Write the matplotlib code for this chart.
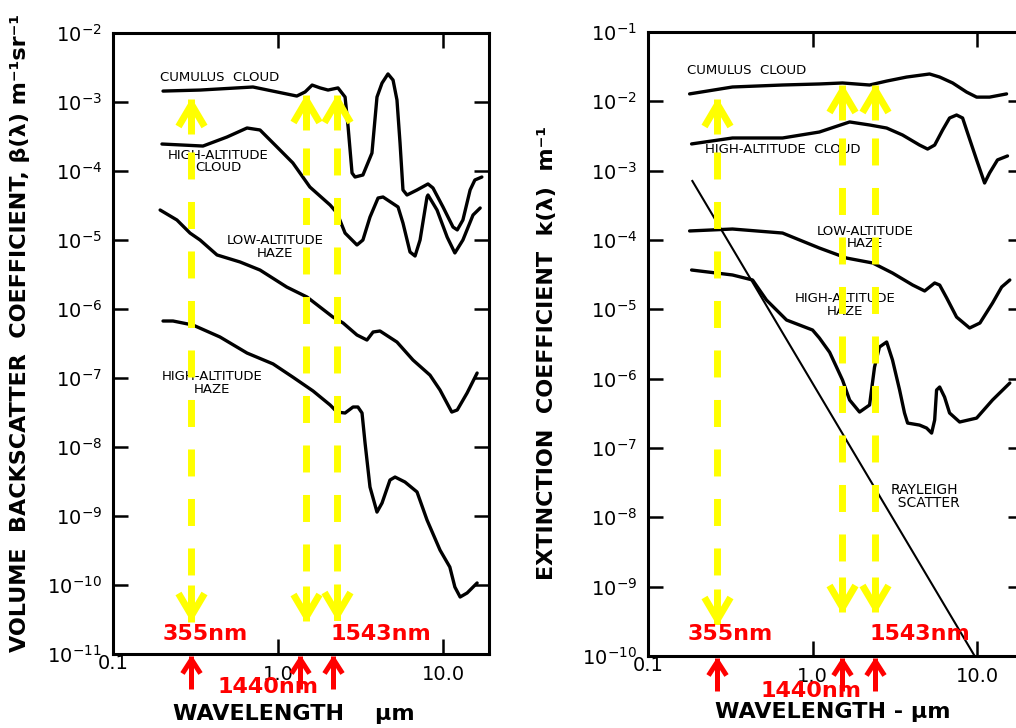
import matplotlib
matplotlib.use("Agg")
import matplotlib.pyplot as plt
from matplotlib.path import Path
from matplotlib.markers import MarkerStyle
from matplotlib.ticker import FixedLocator, FixedFormatter, NullLocator

plt.rcParams['font.family'] = ['DejaVu Sans']
plt.rcParams['lines.scale_dashes'] = False

# ---------------- Left panel: volume backscatter coefficient ----------------
bs_cumulus_x = [0.201, 0.337, 0.705, 1.30, 1.46, 1.61, 1.80, 2.01, 2.31, 2.55, 2.66, 2.81, 2.93,
                3.27, 3.71, 3.98, 4.27, 4.64, 4.98, 5.26, 5.49, 5.72, 6.05, 6.96, 8.11, 8.69,
                10.0, 11.5, 12.2, 13.2, 14.6, 15.6, 17.2]
bs_cumulus_y = [1.44e-3, 1.49e-3, 1.65e-3, 1.22e-3, 1.40e-3, 1.76e-3, 1.60e-3, 1.49e-3, 1.60e-3,
                1.18e-3, 4.34e-4, 9.35e-5, 8.18e-5, 8.75e-5, 1.82e-4, 1.18e-3, 1.88e-3, 2.55e-3,
                2.08e-3, 1.07e-3, 2.55e-4, 5.31e-5, 4.49e-5, 5.31e-5, 6.49e-5, 5.68e-5, 3.01e-5,
                1.54e-5, 1.40e-5, 1.95e-5, 5.31e-5, 7.41e-5, 8.18e-5]

bs_hicloud_x = [0.198, 0.351, 0.491, 0.649, 0.778, 0.986, 1.23, 1.56, 2.07, 2.28, 2.55, 3.01, 3.27,
                3.61, 4.04, 4.33, 5.34, 5.72, 6.31, 6.77, 7.26, 8.00, 8.11, 9.20, 10.6, 11.8,
                13.2, 15.2, 16.8]
bs_hicloud_y = [2.46e-4, 2.30e-4, 3.11e-4, 4.20e-4, 3.93e-4, 2.23e-4, 1.31e-4, 5.86e-5, 3.21e-5,
                2.46e-5, 1.26e-5, 8.47e-6, 1.0e-5, 2.15e-5, 4.06e-5, 4.20e-5, 3.01e-5, 1.76e-5,
                6.70e-6, 5.86e-6, 1.0e-5, 4.20e-5, 4.49e-5, 2.72e-5, 1.10e-5, 6.49e-6, 1.0e-5,
                2.30e-5, 2.91e-5]

bs_lohaze_x = [0.193, 0.244, 0.293, 0.337, 0.427, 0.589, 0.778, 1.13, 1.50, 2.15, 2.48, 3.01, 3.46,
               3.77, 4.15, 5.26, 6.58, 8.34, 9.59, 11.3, 12.2, 14.0, 16.1]
bs_lohaze_y = [2.72e-5, 1.95e-5, 1.26e-5, 1.0e-5, 6.07e-6, 4.80e-6, 3.67e-6, 2.08e-6, 1.49e-6,
               7.66e-7, 6.27e-7, 4.20e-7, 3.55e-7, 4.64e-7, 4.80e-7, 3.32e-7, 1.82e-7, 1.10e-7,
               6.70e-8, 3.21e-8, 3.44e-8, 6.07e-8, 1.18e-7]

bs_hihaze_x = [0.201, 0.231, 0.305, 0.445, 0.649, 0.933, 1.23, 1.63, 2.07, 2.28, 2.55, 2.85, 3.05,
               3.23, 3.37, 3.61, 3.98, 4.27, 4.77, 5.12, 5.88, 6.96, 8.00, 9.59, 11.0, 11.8,
               12.7, 14.0, 16.1]
bs_hihaze_y = [6.70e-7, 6.70e-7, 5.86e-7, 3.93e-7, 2.30e-7, 1.60e-7, 1.03e-7, 6.49e-8, 4.06e-8,
               3.21e-8, 3.11e-8, 3.80e-8, 3.80e-8, 3.11e-8, 1.14e-8, 2.63e-9, 1.14e-9, 1.54e-9,
               3.32e-9, 3.67e-9, 3.11e-9, 2.23e-9, 8.75e-10, 3.21e-10, 1.82e-10, 9.35e-11,
               6.70e-11, 7.66e-11, 1.07e-10]

# ---------------- Right panel: extinction coefficient ----------------
ex_cumulus_x = [0.179, 0.326, 0.657, 1.10, 1.52, 2.22, 2.82, 3.73, 5.14, 5.92, 7.10, 8.63, 9.93,
                11.9, 15.1]
ex_cumulus_y = [1.28e-2, 1.61e-2, 1.72e-2, 1.78e-2, 1.84e-2, 1.72e-2, 1.96e-2, 2.24e-2, 2.48e-2,
                2.24e-2, 1.84e-2, 1.36e-2, 1.15e-2, 1.15e-2, 1.28e-2]

ex_hicloud_x = [0.184, 0.326, 0.657, 1.10, 1.68, 2.22, 2.82, 3.52, 4.47, 5.00, 5.52, 6.17, 6.80,
                7.50, 8.16, 8.75, 9.93, 11.1, 11.9, 13.3, 15.3]
ex_hicloud_y = [2.43e-3, 2.96e-3, 2.96e-3, 3.61e-3, 5.04e-3, 4.56e-3, 4.12e-3, 3.27e-3, 2.34e-3,
                2.05e-3, 2.34e-3, 3.86e-3, 5.75e-3, 6.35e-3, 5.75e-3, 3.49e-3, 1.43e-3, 6.64e-4,
                9.25e-4, 1.43e-3, 1.63e-3]

ex_lohaze_x = [0.179, 0.326, 0.657, 1.10, 1.61, 2.32, 3.06, 4.06, 4.80, 5.52, 5.92, 6.53, 7.50,
               9.00, 10.4, 12.4, 14.1, 15.8]
ex_lohaze_y = [1.35e-4, 1.44e-4, 1.26e-4, 7.66e-5, 5.49e-5, 4.66e-5, 3.34e-5, 2.24e-5, 1.84e-5,
               2.40e-5, 2.24e-5, 1.46e-5, 7.74e-6, 5.38e-6, 6.35e-6, 1.23e-5, 2.10e-5, 2.65e-5]

ex_hihaze_x = [0.184, 0.326, 0.432, 0.525, 0.695, 1.0, 1.10, 1.27, 1.52, 1.68, 1.93, 2.22, 2.38,
               2.55, 2.82, 3.06, 3.38, 3.62, 3.78, 4.47, 4.93, 5.29, 5.52, 5.67, 5.92, 6.34,
               6.80, 7.83, 9.93, 12.4, 15.8]
ex_hihaze_y = [3.69e-5, 3.13e-5, 2.65e-5, 1.36e-5, 7.01e-6, 5.03e-6, 3.86e-6, 2.4e-6, 9.57e-7,
               4.92e-7, 3.30e-7, 4.17e-7, 1.47e-6, 2.86e-6, 3.38e-6, 1.86e-6, 6.86e-7, 3.20e-7,
               2.29e-7, 2.14e-7, 1.94e-7, 1.64e-7, 2.53e-7, 6.86e-7, 7.58e-7, 5.43e-7, 3.20e-7,
               2.37e-7, 2.70e-7, 4.92e-7, 8.65e-7]

ex_rayleigh_x = [0.186, 9.66]
ex_rayleigh_y = [7.1e-4, 1.0e-10]

# ---------------- Axes, ticks ----------------
x_limits = (0.1, 19.0)
bs_ylim = (1e-11, 1e-2)
ex_ylim = (1e-10, 1e-1)
x_ticks = [1.0, 10.0]
x_ticklabels = ['1.0', '10.0']
x_corner_label = '0.1'
bs_yexp = [-11, -10, -9, -8, -7, -6, -5, -4, -3, -2]
ex_yexp = [-10, -9, -8, -7, -6, -5, -4, -3, -2, -1]

# ---------------- Wavelength markers (drawn positions) ----------------
marker_labels = ['355nm', '1440nm', '1543nm']
bs_yellow_x = [0.297, 1.48, 2.28]
bs_yellow_top = [1.18e-3, 1.35e-3, 1.35e-3]
bs_yellow_bot = [2.9e-11, 2.8e-11, 3.0e-11]
bs_red_x = [0.297, 1.36, 2.15]
ex_yellow_x = [0.264, 1.52, 2.38]
ex_yellow_top = [1.15e-2, 1.84e-2, 1.84e-2]
ex_yellow_bot = [2.7e-10, 4.0e-10, 4.0e-10]
ex_red_x = [0.264, 1.50, 2.38]

YELLOW = '#FFFF00'
RED = '#FF0000'

fig = plt.figure(figsize=(10.16, 7.28), dpi=100)
W, H = 1016.0, 728.0
axL = fig.add_axes([113 / W, (H - 654) / H, 376 / W, 621 / H])
axR = fig.add_axes([648 / W, (H - 656) / H, 375 / W, 624 / H])


def chevron(up, half_w, depth, miter, stub):
    s = 1 if up else -1
    verts = [(-half_w, -s * depth), (0, -s * miter), (half_w, -s * depth),
             (0, -s * 2), (0, -s * stub)]
    codes = [Path.MOVETO, Path.LINETO, Path.LINETO, Path.MOVETO, Path.LINETO]
    return MarkerStyle(Path(verts, codes), fillstyle='none', joinstyle='miter', capstyle='butt')


yellow_up = chevron(True, 13, 29, 7, 37)
yellow_dn = chevron(False, 13, 29, 7, 37)
red_up = chevron(True, 9, 19, 5, 35)
PX = 72.0 / 100.0  # points per pixel


def style_axes(ax, ylim, yexp):
    ax.set_xscale('log')
    ax.set_yscale('log')
    ax.set_xlim(*x_limits)
    ax.set_ylim(*ylim)
    ax.xaxis.set_major_locator(FixedLocator(x_ticks))
    ax.xaxis.set_major_formatter(FixedFormatter(x_ticklabels))
    ax.xaxis.set_minor_locator(NullLocator())
    yt = [10.0 ** e for e in yexp]
    ax.yaxis.set_major_locator(FixedLocator(yt))
    ax.yaxis.set_major_formatter(FixedFormatter([r'$\mathregular{10^{%d}}$' % e for e in yexp]))
    ax.yaxis.set_minor_locator(NullLocator())
    ax.tick_params(which='major', direction='in', length=11, width=1.8, top=True, right=True,
                   labelsize=14, pad=8, colors='black')
    for sp in ax.spines.values():
        sp.set_linewidth(2.2)
    ax.text(x_limits[0], 0, x_corner_label, transform=ax.get_xaxis_transform(),
            ha='center', va='top', fontsize=14, clip_on=False)


def draw_markers(ax, yx, ytop, ybot, rx, label_offsets):
    for x, t, b in zip(yx, ytop, ybot):
        ax.plot([x, x], [t, b], color=YELLOW, lw=5, solid_capstyle='butt',
                linestyle=(31.7, (27 * PX, 22.5 * PX)), zorder=6)
        ax.plot([x], [t], marker=yellow_up, ms=74 * PX, mew=5, mec=YELLOW,
                linestyle='none', zorder=6, clip_on=False)
        ax.plot([x], [b], marker=yellow_dn, ms=74 * PX, mew=5, mec=YELLOW,
                linestyle='none', zorder=6, clip_on=False)
    tr = ax.get_xaxis_transform()
    for x, lab, (dx, dy) in zip(rx, marker_labels, label_offsets):
        ax.plot([x], [0], marker=red_up, ms=70 * PX, mew=3.6, mec=RED, linestyle='none',
                transform=tr, clip_on=False, zorder=7)
        ax.annotate(lab, xy=(x, 0), xycoords=tr, xytext=(dx, dy), textcoords='offset pixels',
                    ha='center', va='center', color=RED, fontsize=16, fontweight='bold',
                    zorder=8, annotation_clip=False)


CURVE = dict(color='black', lw=2.4, solid_joinstyle='round', solid_capstyle='round', zorder=3)

# ----- Left panel -----
style_axes(axL, bs_ylim, bs_yexp)
axL.plot(bs_cumulus_x, bs_cumulus_y, **CURVE)
axL.plot(bs_hicloud_x, bs_hicloud_y, **CURVE)
axL.plot(bs_lohaze_x, bs_lohaze_y, **CURVE)
axL.plot(bs_hihaze_x, bs_hihaze_y, **CURVE)
lab = dict(transform=axL.transAxes, fontsize=9.5, ha='center', va='center', linespacing=0.95, zorder=4)
axL.text(0.125, 0.928, 'CUMULUS  CLOUD', **{**lab, 'ha': 'left'})
axL.text(0.279, 0.793, 'HIGH-ALTITUDE\nCLOUD', **lab)
axL.text(0.431, 0.655, 'LOW-ALTITUDE\nHAZE', **lab)
axL.text(0.263, 0.436, 'HIGH-ALTITUDE\nHAZE', **lab)
axL.set_ylabel('VOLUME  BACKSCATTER  COEFFICIENT, β(λ) m⁻¹sr⁻¹', fontsize=16, fontweight='bold')
axL.yaxis.set_label_coords(-0.221, 0.517)
axL.set_xlabel('WAVELENGTH    μm', fontsize=16, fontweight='bold', va='center')
axL.xaxis.set_label_coords(0.481, -0.0966)
draw_markers(axL, bs_yellow_x, bs_yellow_top, bs_yellow_bot, bs_red_x,
             [(14, 20), (-32, -33), (48, 20)])

# ----- Right panel -----
style_axes(axR, ex_ylim, ex_yexp)
axR.plot(ex_cumulus_x, ex_cumulus_y, **CURVE)
axR.plot(ex_hicloud_x, ex_hicloud_y, **CURVE)
axR.plot(ex_lohaze_x, ex_lohaze_y, **CURVE)
axR.plot(ex_hihaze_x, ex_hihaze_y, **CURVE)
axR.plot(ex_rayleigh_x, ex_rayleigh_y, color='black', lw=1.5, zorder=3)
lab = dict(transform=axR.transAxes, fontsize=9.5, ha='center', va='center', linespacing=0.95, zorder=4)
axR.text(0.104, 0.9375, 'CUMULUS  CLOUD', **{**lab, 'ha': 'left'})
axR.text(0.152, 0.811, 'HIGH-ALTITUDE  CLOUD', **{**lab, 'ha': 'left'})
axR.text(0.579, 0.671, 'LOW-ALTITUDE\nHAZE', **lab)
axR.text(0.525, 0.5625, 'HIGH-ALTITUDE\nHAZE', **lab)
axR.text(0.736, 0.256, 'RAYLEIGH\n  SCATTER', **{**lab, 'fontsize': 10})
axR.set_ylabel('EXTINCTION  COEFFICIENT  k(λ)  m⁻¹', fontsize=16, fontweight='bold')
axR.yaxis.set_label_coords(-0.243, 0.486)
axR.set_xlabel('WAVELENGTH - μm', fontsize=16, fontweight='bold', va='center')
axR.xaxis.set_label_coords(0.493, -0.0897)
draw_markers(axR, ex_yellow_x, ex_yellow_top, ex_yellow_bot, ex_red_x,
             [(13, 22), (-31, -35), (45, 22)])

fig.savefig('out.png', dpi=100)
